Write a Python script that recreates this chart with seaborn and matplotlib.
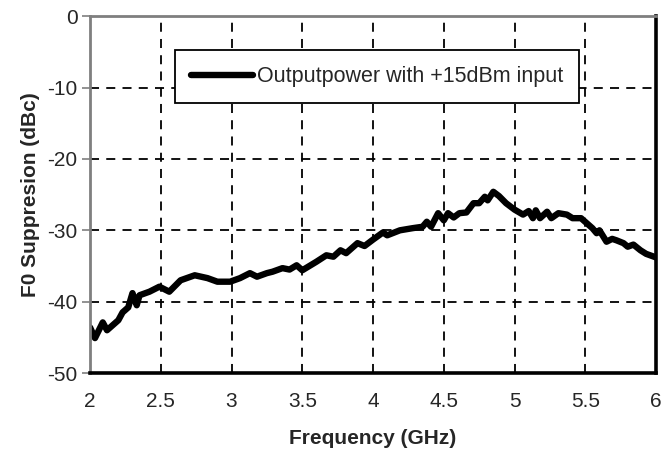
import matplotlib
matplotlib.use("Agg")
import matplotlib.pyplot as plt
import seaborn as sns
import pandas as pd

# values
freq = [2.0, 2.035, 2.09, 2.12, 2.2, 2.23, 2.27, 2.3, 2.33, 2.35, 2.42, 2.49, 2.56, 2.64,
        2.74, 2.83, 2.9, 2.99, 3.06, 3.13, 3.18, 3.25, 3.29, 3.36, 3.41, 3.46, 3.5,
        3.6, 3.67, 3.72, 3.77, 3.81, 3.89, 3.94, 4.0, 4.07, 4.1, 4.19, 4.28, 4.35,
        4.38, 4.41, 4.46, 4.5, 4.53, 4.57, 4.61, 4.66, 4.71, 4.75, 4.79, 4.81, 4.85,
        4.89, 4.94, 5.0, 5.06, 5.1, 5.13, 5.15, 5.18, 5.23, 5.26, 5.31, 5.37, 5.41,
        5.47, 5.51, 5.55, 5.58, 5.6, 5.65, 5.69, 5.72, 5.77, 5.8, 5.84, 5.89, 5.93, 6.0]
suppression = [-43.6, -45.1, -42.9, -44.0, -42.6, -41.5, -40.8, -38.8, -40.5, -39.1, -38.6,
               -37.9, -38.6, -37.0, -36.3, -36.7, -37.2, -37.2, -36.7, -36.0, -36.5, -36.0,
               -35.8, -35.3, -35.5, -34.9, -35.6, -34.4, -33.5, -33.7, -32.8, -33.2, -31.8,
               -32.2, -31.3, -30.3, -30.7, -30.0, -29.7, -29.5, -28.8, -29.5, -27.6, -28.6,
               -27.6, -28.2, -27.6, -27.5, -26.2, -26.2, -25.3, -25.8, -24.6, -25.2, -26.2,
               -27.1, -27.8, -27.3, -28.3, -27.2, -28.3, -27.4, -28.3, -27.6, -27.8, -28.3,
               -28.3, -29.0, -29.7, -30.4, -30.0, -31.6, -31.2, -31.4, -31.8, -32.3, -32.0,
               -32.8, -33.3, -33.8]
label = "Outputpower with +15dBm input"
xticks = [2, 2.5, 3, 3.5, 4, 4.5, 5, 5.5, 6]
xtick_labels = ["2", "2.5", "3", "3.5", "4", "4.5", "5", "5.5", "6"]
yticks = [0, -10, -20, -30, -40, -50]

df = pd.DataFrame({"freq": freq, "val": suppression})

sns.set_style("white")
plt.rcParams["font.family"] = ["Liberation Sans", "DejaVu Sans"]
plt.rcParams["axes.unicode_minus"] = False

fig = plt.figure(figsize=(6.62, 4.5), dpi=100)
ax = fig.add_axes([0.136, 0.171, 0.855, 0.793])

sns.lineplot(data=df, x="freq", y="val", color="black", linewidth=4.6,
             label=label, ax=ax)

ax.set_xlim(2, 6)
ax.set_ylim(-50, 0)
ax.set_xticks(xticks)
ax.set_xticklabels(xtick_labels)
ax.set_yticks(yticks)
ax.grid(True, color="black", linestyle=(0, (5, 4)), linewidth=1.3)

for s in ["top", "left"]:
    ax.spines[s].set_color("#7f7f7f")
    ax.spines[s].set_linewidth(2)
for s in ["bottom", "right"]:
    ax.spines[s].set_color("black")
    ax.spines[s].set_linewidth(2.6)

ax.tick_params(axis="y", left=True, length=6, width=1.2, color="#7f7f7f",
               labelsize=15, pad=3)
ax.tick_params(axis="x", bottom=False, labelsize=15, pad=10)

ax.set_xlabel("Frequency (GHz)", fontsize=15, fontweight="bold", labelpad=13)
ax.set_ylabel("F0 Suppresion (dBc)", fontsize=15, fontweight="bold", labelpad=5)

leg = ax.legend(loc="upper center", bbox_to_anchor=(0.507, 0.905), fontsize=15.5,
                frameon=True, fancybox=False, edgecolor="black", handlelength=2.9,
                borderpad=0.75, handletextpad=0.15, borderaxespad=0)
leg.get_frame().set_linewidth(1.3)
leg.get_frame().set_alpha(1)

fig.savefig("out.png", dpi=100)
